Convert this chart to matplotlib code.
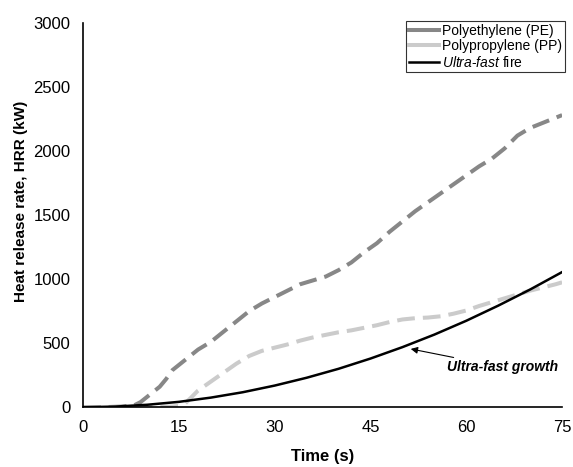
import matplotlib
matplotlib.use('Agg')
import matplotlib.pyplot as plt
from matplotlib.lines import Line2D

plt.rcParams['font.family'] = ['Liberation Sans', 'DejaVu Sans']
plt.rcParams['mathtext.fontset'] = 'custom'
plt.rcParams['mathtext.rm'] = 'Liberation Sans'
plt.rcParams['mathtext.it'] = 'Liberation Sans:italic'

# Polyethylene (PE) HRR curve
t_pe = [0, 3, 6, 8, 9, 10, 11, 12, 13, 14, 15, 16, 18, 20, 22, 24, 26, 28, 30,
        32, 34, 36, 38, 40, 42, 44, 46, 48, 50, 52, 54, 56, 58, 60, 62, 64,
        66, 68, 70, 72, 74, 75]
hrr_pe = [0, 0, 5, 15, 40, 80, 120, 160, 220, 290, 330, 370, 450, 510, 590,
          670, 750, 810, 860, 910, 960, 990, 1020, 1070, 1130, 1210, 1280,
          1370, 1450, 1530, 1600, 1670, 1740, 1810, 1880, 1940, 2020, 2120,
          2180, 2220, 2260, 2280]

# Polypropylene (PP) HRR curve
t_pp = [0, 5, 10, 14, 15, 16, 17, 18, 20, 22, 24, 26, 28, 30, 32, 34, 36, 38,
        40, 42, 44, 46, 48, 50, 52, 54, 56, 58, 60, 62, 64, 66, 68, 70, 72,
        74, 75]
hrr_pp = [0, 0, 0, 5, 10, 30, 80, 130, 200, 270, 340, 400, 440, 465, 490, 520,
          545, 565, 585, 600, 620, 640, 665, 685, 695, 700, 710, 730, 755, 790,
          820, 850, 880, 910, 935, 960, 975]

# Ultra-fast t-squared design fire
t_uf = [0, 5, 10, 15, 20, 25, 30, 35, 40, 45, 50, 55, 60, 65, 70, 75]
hrr_uf = [0, 5, 19, 42, 75, 117, 169, 230, 300, 380, 469, 567, 675, 793, 919,
          1055]

x_ticks = [0, 15, 30, 45, 60, 75]
y_ticks = [0, 500, 1000, 1500, 2000, 2500, 3000]

fig = plt.figure(figsize=(5.73, 4.67), dpi=100)
ax = fig.add_axes([0.145, 0.128, 0.836, 0.823])

ax.plot(t_pe, hrr_pe, color='#878787', lw=2.9, dashes=(4.4, 2))
ax.plot(t_pp, hrr_pp, color='#cbcbcb', lw=2.9, dashes=(4.4, 2))
ax.plot(t_uf, hrr_uf, color='black', lw=1.8)

ax.annotate('Ultra-fast growth', xy=(51.3, 455), xytext=(57, 312),
            fontsize=10, fontweight='bold', fontstyle='italic', va='center',
            arrowprops=dict(arrowstyle='-|>', color='black', lw=0.8,
                            mutation_scale=10, shrinkA=0, shrinkB=0))

ax.set_xlim(0, 75)
ax.set_ylim(0, 3000)
ax.set_xticks(x_ticks)
ax.set_yticks(y_ticks)
ax.tick_params(direction='inout', length=6, width=2.5, color='white',
               labelsize=12, pad=6)
ax.spines['top'].set_visible(False)
ax.spines['right'].set_visible(False)
ax.spines['left'].set_linewidth(1.2)
ax.spines['bottom'].set_linewidth(1.2)

ax.set_xlabel('Time (s)', fontsize=12, fontweight='bold', labelpad=10)
ax.set_ylabel('Heat release rate, HRR (kW)', fontsize=11, fontweight='bold')
ax.yaxis.set_label_coords(-0.115, 0.535)

handles = [Line2D([], [], color='#878787', lw=2.9),
           Line2D([], [], color='#cbcbcb', lw=2.9),
           Line2D([], [], color='black', lw=1.8)]
labels = ['Polyethylene (PE)', 'Polypropylene (PP)', '$\\it{Ultra}$-$\\it{fast}$ fire']
leg = fig.legend(handles, labels, loc='upper right',
                 bbox_to_anchor=(0.986, 0.955), fontsize=10, frameon=True,
                 fancybox=False, edgecolor='black', handlelength=2.2,
                 handletextpad=0.2, labelspacing=0.1, borderpad=0.2,
                 borderaxespad=0)
leg.get_frame().set_linewidth(0.8)

fig.savefig('out.png', dpi=100)
